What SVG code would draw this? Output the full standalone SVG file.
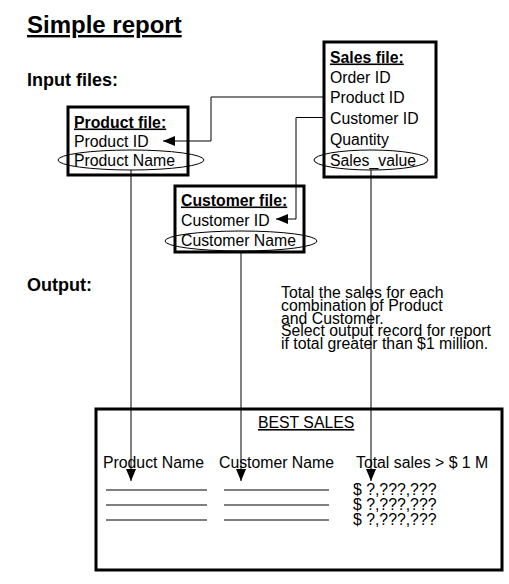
<svg xmlns="http://www.w3.org/2000/svg" width="509" height="584" viewBox="0 0 509 584">
<defs>
<style>
text{font-family:"Liberation Sans",Arial,sans-serif;fill:#000}
.t{font-size:15.8px}
.b{font-weight:bold}
.u{text-decoration:underline}
.box{fill:#fff;stroke:#000;stroke-width:3}
.ell{fill:none;stroke:#000;stroke-width:1}
.ln{fill:none;stroke:#000;stroke-width:1}
</style>
<marker id="ah" markerUnits="userSpaceOnUse" markerWidth="12" markerHeight="10" refX="12" refY="5" orient="auto">
<path d="M0,0 L12,5 L0,10 Z" fill="#000"/>
</marker>
</defs>
<rect width="509" height="584" fill="#fff"/>
<text x="27" y="33" class="b u" font-size="24">Simple report</text>
<text x="27" y="86" class="b" font-size="18">Input files:</text>
<text x="27" y="291" class="b" font-size="18">Output:</text>

<g id="sales">
<rect class="box" x="324" y="42" width="112" height="135"/>
<text class="t b u" x="330" y="62.5">Sales file:</text>
<text class="t" x="330" y="83">Order ID</text>
<text class="t" x="330" y="103">Product ID</text>
<text class="t" x="330" y="123.5">Customer ID</text>
<text class="t" x="330" y="144.5">Quantity</text>
<text class="t" x="330" y="165.5">Sales_value</text>
<ellipse class="ell" cx="371" cy="160" rx="57" ry="10"/>
</g>

<g id="product">
<rect class="box" x="68" y="107" width="120" height="68"/>
<text class="t b u" x="74" y="127.5">Product file:</text>
<text class="t" x="74" y="146.5">Product ID</text>
<text class="t" x="74" y="165.5">Product Name</text>
<ellipse class="ell" cx="131" cy="160" rx="73" ry="10"/>
</g>

<g id="customer">
<rect class="box" x="175" y="186" width="129" height="66"/>
<text class="t b u" x="181" y="205.5">Customer file:</text>
<text class="t" x="181" y="225.5">Customer ID</text>
<text class="t" x="181" y="246">Customer Name</text>
<ellipse class="ell" cx="241" cy="241" rx="76" ry="10"/>
</g>

<g id="note">
<text class="t" x="281" y="298">Total the sales for each</text>
<text class="t" x="281" y="310.8">combination of Product</text>
<text class="t" x="281" y="323.6">and Customer.</text>
<text class="t" x="281" y="336.4">Select output record for report</text>
<text class="t" x="281" y="349.2">if total greater than $1 million.</text>
</g>

<g id="report">
<rect class="box" x="96" y="409" width="406" height="161"/>
<text class="t u" x="258" y="428">BEST SALES</text>
<text class="t" x="103" y="468">Product Name</text>
<text class="t" x="219" y="468">Customer Name</text>
<text class="t" x="356" y="468">Total sales &gt; $ 1 M</text>
<path class="ln" d="M106,490H207M106,505H207M106,520H207M224,490H329M224,505H329M224,520H329"/>
<text class="t" x="353" y="495">$ ?,???,???</text>
<text class="t" x="353" y="510">$ ?,???,???</text>
<text class="t" x="353" y="525">$ ?,???,???</text>
</g>

<g id="connectors">
<path class="ln" d="M324,97H211V141H163" marker-end="url(#ah)"/>
<path class="ln" d="M324,117.5H296V219H276" marker-end="url(#ah)"/>
<path class="ln" d="M131,170V481" marker-end="url(#ah)"/>
<path class="ln" d="M241,251V481" marker-end="url(#ah)"/>
<path class="ln" d="M371,170V481" marker-end="url(#ah)"/>
</g>
</svg>
